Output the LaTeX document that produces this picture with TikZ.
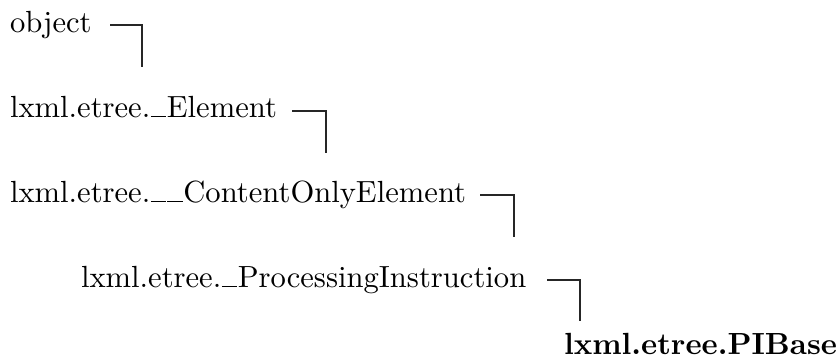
\documentclass[tikz,border=0pt]{standalone}
\newcommand{\usc}{\leavevmode\kern.02em\vbox{\hrule width .5em height .4pt}\kern.02em}
\begin{document}
\begin{tikzpicture}[x=0.3268pt,y=-0.3268pt,
  cls/.style={anchor=base west,inner sep=0pt,outer sep=0pt},
  link/.style={line width=0.35pt,draw=black!85}]
\useasboundingbox (0,0) rectangle (840,356);
\node[cls] (n1) at (10,32) {object};
\node[cls] (n2) at (10,117) {lxml.etree.\usc Element};
\node[cls] (n3) at (10,202) {lxml.etree.\usc\usc ContentOnlyElement};
\node[cls] (n4) at (81,287) {lxml.etree.\usc ProcessingInstruction};
\node[cls] (n5) at (564,354) {\bfseries lxml.etree.PIBase};
\coordinate (s1) at (110,25); \coordinate (e1) at (142,67);
\coordinate (s2) at (292,111); \coordinate (e2) at (326,153);
\coordinate (s3) at (480,195); \coordinate (e3) at (514,237);
\coordinate (s4) at (547,280); \coordinate (e4) at (580,321);
\draw[link] (s1) -| (e1);
\draw[link] (s2) -| (e2);
\draw[link] (s3) -| (e3);
\draw[link] (s4) -| (e4);
\end{tikzpicture}
\end{document}
